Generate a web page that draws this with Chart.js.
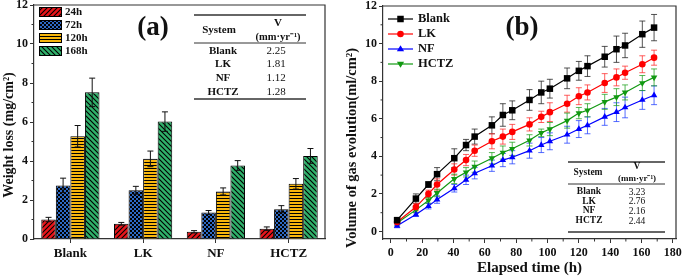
<!DOCTYPE html>
<html>
<head>
<meta charset="utf-8">
<script src="https://cdn.jsdelivr.net/npm/chart.js@4.4.0/dist/chart.umd.min.js"></script>
<style>
  html, body { margin: 0; padding: 0; background: #fff; }
  #wrap { position: relative; width: 685px; height: 277px; overflow: hidden; }
  canvas { position: absolute; top: 0; }
  #chartA { left: 0; }
  #chartB { left: 340px; }
</style>
</head>
<body>
<div id="wrap">
  <canvas id="chartA" width="340" height="277"></canvas>
  <canvas id="chartB" width="345" height="277"></canvas>
</div>
<script>
(function () {
  "use strict";

  // ---- (a) weight loss ----
  const systems   = ['Blank', 'LK', 'NF', 'HCTZ'];
  const periods   = ['24h', '72h', '120h', '168h'];
  const loss24    = [1.00, 0.78, 0.37, 0.53];
  const loss72    = [2.75, 2.50, 1.36, 1.53];
  const loss120   = [5.27, 4.11, 2.44, 2.83];
  const loss168   = [7.52, 6.02, 3.77, 4.26];
  const lossErr24  = [0.11, 0.07, 0.06, 0.09];
  const lossErr72  = [0.37, 0.20, 0.10, 0.18];
  const lossErr120 = [0.55, 0.40, 0.18, 0.27];
  const lossErr168 = [0.73, 0.50, 0.25, 0.38];
  const rateA     = ['2.25', '1.81', '1.12', '1.28'];

  // ---- (b) gas evolution ----
  const hours    = [4, 16, 24, 29.5, 40.5, 48, 53.5, 64.5, 71.5, 77.5, 88.5, 96, 101.5, 112.5, 120, 125.5, 136.5, 144, 149.5, 160.5, 168];
  const gasBlank = [0.60, 1.75, 2.50, 3.05, 3.90, 4.60, 5.05, 5.65, 6.20, 6.45, 7.00, 7.40, 7.60, 8.15, 8.55, 8.80, 9.30, 9.70, 9.90, 10.50, 10.85];
  const gasLK    = [0.50, 1.30, 2.00, 2.50, 3.30, 3.80, 4.30, 4.80, 5.05, 5.30, 5.70, 6.10, 6.35, 6.80, 7.20, 7.40, 7.90, 8.20, 8.45, 8.90, 9.25];
  const gasNF    = [0.30, 0.90, 1.35, 1.70, 2.30, 2.75, 3.10, 3.50, 3.80, 3.95, 4.30, 4.60, 4.80, 5.15, 5.45, 5.65, 6.10, 6.35, 6.60, 7.00, 7.25];
  const gasHCTZ  = [0.45, 1.15, 1.65, 2.05, 2.80, 3.15, 3.45, 3.90, 4.20, 4.40, 4.85, 5.25, 5.45, 5.90, 6.30, 6.45, 6.90, 7.15, 7.40, 7.90, 8.20];
  const errBlank = [0.15, 0.25, 0.15, 0.35, 0.50, 0.30, 0.40, 0.45, 0.60, 0.50, 0.55, 0.60, 0.50, 0.55, 0.50, 0.55, 0.55, 0.70, 0.65, 0.70, 0.70];
  const errLK    = [0.15, 0.20, 0.20, 0.30, 0.30, 0.30, 0.30, 0.40, 0.40, 0.40, 0.35, 0.30, 0.50, 0.45, 0.45, 0.40, 0.50, 0.45, 0.35, 0.45, 0.40];
  const errNF    = [0.10, 0.10, 0.15, 0.20, 0.20, 0.25, 0.30, 0.30, 0.35, 0.35, 0.40, 0.40, 0.45, 0.45, 0.45, 0.45, 0.45, 0.50, 0.55, 0.50, 0.50];
  const errHCTZ  = [0.15, 0.15, 0.15, 0.20, 0.25, 0.25, 0.30, 0.30, 0.35, 0.35, 0.30, 0.20, 0.35, 0.40, 0.30, 0.35, 0.40, 0.45, 0.40, 0.40, 0.45];
  const rateB    = ['3.23', '2.76', '2.16', '2.44'];

  const SERIF = '"Liberation Serif", "Times New Roman", serif';
  const AXIS  = '#333';

  Chart.defaults.font.family = SERIF;
  Chart.defaults.font.weight = 'bold';
  Chart.defaults.color = '#111';

  // hatched fills
  function hatch(ctx, bg, kind) {
    const s = kind === 'dots' ? 4 : (kind === 'h' ? 3 : 5);
    const c = document.createElement('canvas');
    c.width = s; c.height = s;
    const g = c.getContext('2d');
    g.fillStyle = bg; g.fillRect(0, 0, s, s);
    g.strokeStyle = '#000'; g.fillStyle = '#000'; g.lineWidth = 1.1;
    g.beginPath();
    if (kind === '/') {
      g.moveTo(0, s); g.lineTo(s, 0);
      g.moveTo(-1, 1); g.lineTo(1, -1);
      g.moveTo(s - 1, s + 1); g.lineTo(s + 1, s - 1);
      g.stroke();
    } else if (kind === '\\') {
      g.moveTo(0, 0); g.lineTo(s, s);
      g.moveTo(s - 1, -1); g.lineTo(s + 1, 1);
      g.moveTo(-1, s - 1); g.lineTo(1, s + 1);
      g.stroke();
    } else if (kind === 'h') {
      g.fillRect(0, 0, s, 1);
    } else {
      g.fillRect(0, 0, 2, 2); g.fillRect(2, 2, 2, 2);
    }
    return ctx.createPattern(c, 'repeat');
  }

  function text(ctx, s, x, y, size, bold, align) {
    ctx.font = (bold ? 'bold ' : '') + size + 'px ' + SERIF;
    ctx.textAlign = align || 'center';
    ctx.textBaseline = 'middle';
    ctx.fillText(s, x, y);
  }

  function vtext(ctx, s, x, y, size) {
    ctx.save();
    ctx.translate(x, y);
    ctx.rotate(-Math.PI / 2);
    text(ctx, s, 0, 0, size, true);
    ctx.restore();
  }

  function hline(ctx, x1, x2, y, w) {
    ctx.lineWidth = w;
    ctx.beginPath(); ctx.moveTo(x1, y); ctx.lineTo(x2, y); ctx.stroke();
  }

  function frame(chart) {
    const a = chart.chartArea, ctx = chart.ctx;
    ctx.strokeStyle = AXIS; ctx.lineWidth = 1.2;
    ctx.beginPath();
    ctx.moveTo(a.left, a.top); ctx.lineTo(a.right, a.top); ctx.lineTo(a.right, a.bottom);
    ctx.stroke();
  }

  function minorY(chart, vals) {
    const a = chart.chartArea, ctx = chart.ctx, y = chart.scales.y;
    ctx.strokeStyle = AXIS; ctx.lineWidth = 1;
    ctx.beginPath();
    vals.forEach(v => { const p = y.getPixelForValue(v); ctx.moveTo(a.left - 2.5, p); ctx.lineTo(a.left, p); });
    ctx.stroke();
  }

  function minorX(chart, vals) {
    const a = chart.chartArea, ctx = chart.ctx, x = chart.scales.x;
    ctx.strokeStyle = AXIS; ctx.lineWidth = 1;
    ctx.beginPath();
    vals.forEach(v => { const p = x.getPixelForValue(v); ctx.moveTo(p, a.bottom); ctx.lineTo(p, a.bottom + 2.5); });
    ctx.stroke();
  }

  function fixWidth(w) {
    return function (scale) { scale.width = w; scale.paddingTop = 0; scale.paddingBottom = 0; };
  }
  function fixHeight(h) {
    return function (scale) { scale.height = h; scale.paddingLeft = 0; scale.paddingRight = 0; };
  }

  // ------------------------------------------------------------------
  //  (a) bar chart
  // ------------------------------------------------------------------
  const canvasA = document.getElementById('chartA');
  const ctxA = canvasA.getContext('2d');
  const fillA = [
    hatch(ctxA, '#e8151b', '/'),
    hatch(ctxA, '#2d69c4', 'dots'),
    hatch(ctxA, '#f8b60c', 'h'),
    hatch(ctxA, '#2fb06a', '\\')
  ];
  const lossData = [loss24, loss72, loss120, loss168];
  const lossErrs = [lossErr24, lossErr72, lossErr120, lossErr168];

  const barErrors = {
    id: 'barErrors',
    afterDatasetsDraw(chart) {
      const ctx = chart.ctx, y = chart.scales.y;
      ctx.save();
      ctx.strokeStyle = '#111'; ctx.lineWidth = 1;
      chart.data.datasets.forEach((ds, i) => {
        chart.getDatasetMeta(i).data.forEach((bar, j) => {
          const t = y.getPixelForValue(ds.data[j] + ds.errors[j]);
          const b = y.getPixelForValue(ds.data[j] - ds.errors[j]);
          ctx.beginPath();
          ctx.moveTo(bar.x, t); ctx.lineTo(bar.x, b);
          ctx.moveTo(bar.x - 3, t); ctx.lineTo(bar.x + 3, t);
          ctx.moveTo(bar.x - 3, b); ctx.lineTo(bar.x + 3, b);
          ctx.stroke();
        });
      });
      ctx.restore();
    }
  };

  const decorA = {
    id: 'decorA',
    afterDraw(chart) {
      const ctx = chart.ctx;
      ctx.save();
      frame(chart);
      minorY(chart, [1, 3, 5, 7, 9, 11]);
      ctx.fillStyle = '#111';
      vtext(ctx, 'Weight loss (mg/cm\u00b2)', 9, 135, 14);
      text(ctx, '(a)', 153, 28, 27, true);

      // legend
      periods.forEach((p, i) => {
        const y = 7 + i * 13;
        ctx.fillStyle = fillA[i];
        ctx.fillRect(39, y, 23, 10);
        ctx.strokeStyle = '#000'; ctx.lineWidth = 1;
        ctx.strokeRect(39.5, y + 0.5, 22, 9);
        ctx.fillStyle = '#111';
        text(ctx, p, 65, y + 5.5, 11, true, 'left');
      });

      // rate table
      ctx.strokeStyle = '#333';
      hline(ctx, 194, 306, 15, 1.3);
      hline(ctx, 194, 306, 43, 1);
      hline(ctx, 194, 306, 99, 1.3);
      ctx.fillStyle = '#111';
      text(ctx, 'System', 219, 30, 11, true);
      text(ctx, 'V', 278, 23, 11, true);
      text(ctx, '(mm\u00b7yr\u207b\u00b9)', 278, 37, 10.5, true);
      systems.forEach((s, i) => {
        const y = [51, 64.5, 78, 92][i];
        text(ctx, s, 223, y, 11, true);
        text(ctx, rateA[i], 276, y, 11, false);
      });
      ctx.restore();
    }
  };

  new Chart(ctxA, {
    type: 'bar',
    data: {
      labels: systems,
      datasets: periods.map((p, i) => ({
        label: p,
        data: lossData[i],
        errors: lossErrs[i],
        backgroundColor: fillA[i],
        borderColor: '#000',
        borderWidth: 1,
        categoryPercentage: 0.8,
        barPercentage: 1.0
      }))
    },
    options: {
      responsive: false,
      animation: false,
      layout: { padding: { left: 0, right: 15, top: 5, bottom: 0 } },
      plugins: { legend: { display: false }, tooltip: { enabled: false } },
      scales: {
        x: {
          afterFit: fixHeight(38),
          grid: { display: true, offset: false, drawOnChartArea: false, drawTicks: true, tickLength: 4, color: AXIS },
          border: { color: AXIS, width: 1.2 },
          ticks: { padding: 3, font: { size: 13, weight: 'bold' }, color: '#111' }
        },
        y: {
          min: 0, max: 12,
          afterFit: fixWidth(34),
          grid: { display: true, drawOnChartArea: false, drawTicks: true, tickLength: 4, color: AXIS },
          border: { color: AXIS, width: 1.2 },
          ticks: { stepSize: 2, padding: 2, font: { size: 12, weight: 'bold' }, color: '#111' }
        }
      }
    },
    plugins: [barErrors, decorA]
  });

  // ------------------------------------------------------------------
  //  (b) line chart
  // ------------------------------------------------------------------
  const canvasB = document.getElementById('chartB');
  const ctxB = canvasB.getContext('2d');
  const seriesB = [
    { label: 'Blank', data: gasBlank, err: errBlank, color: '#000000', errColor: 'rgba(40,40,40,0.8)',  style: 'rect',     radius: 4.6, rot: 0 },
    { label: 'LK',    data: gasLK,    err: errLK,    color: '#ff0000', errColor: 'rgba(255,40,40,0.75)', style: 'circle',   radius: 3.3, rot: 0 },
    { label: 'NF',    data: gasNF,    err: errNF,    color: '#0000ff', errColor: 'rgba(30,60,255,0.75)', style: 'triangle', radius: 3.8, rot: 0 },
    { label: 'HCTZ',  data: gasHCTZ,  err: errHCTZ,  color: '#119911', errColor: 'rgba(30,160,30,0.75)', style: 'triangle', radius: 3.8, rot: 180 }
  ];

  const lineErrors = {
    id: 'lineErrors',
    beforeDatasetsDraw(chart) {
      const ctx = chart.ctx, x = chart.scales.x, y = chart.scales.y;
      ctx.save();
      ctx.lineWidth = 1;
      chart.data.datasets.forEach(ds => {
        ctx.strokeStyle = ds.errColor;
        ds.data.forEach((pt, j) => {
          const px = x.getPixelForValue(pt.x);
          const t = y.getPixelForValue(pt.y + ds.errors[j]);
          const b = y.getPixelForValue(pt.y - ds.errors[j]);
          ctx.beginPath();
          ctx.moveTo(px, t); ctx.lineTo(px, b);
          ctx.moveTo(px - 3, t); ctx.lineTo(px + 3, t);
          ctx.moveTo(px - 3, b); ctx.lineTo(px + 3, b);
          ctx.stroke();
        });
      });
      ctx.restore();
    }
  };

  function marker(ctx, style, rot, x, y, r) {
    ctx.beginPath();
    if (style === 'rect') {
      const s = r * Math.SQRT1_2;
      ctx.rect(x - s, y - s, 2 * s, 2 * s);
    } else if (style === 'circle') {
      ctx.arc(x, y, r, 0, Math.PI * 2);
    } else {
      const d = rot ? -1 : 1;
      ctx.moveTo(x, y - d * r);
      ctx.lineTo(x + r * 0.95, y + d * r * 0.6);
      ctx.lineTo(x - r * 0.95, y + d * r * 0.6);
      ctx.closePath();
    }
    ctx.fill();
  }

  const decorB = {
    id: 'decorB',
    afterDraw(chart) {
      const ctx = chart.ctx;
      ctx.save();
      frame(chart);
      minorY(chart, [1, 3, 5, 7, 9, 11]);
      minorX(chart, [10, 30, 50, 70, 90, 110, 130, 150, 170]);
      ctx.fillStyle = '#111';
      vtext(ctx, 'Volume of gas evolution(ml/cm\u00b2)', 12, 148, 14.5);
      text(ctx, '(b)', 182, 28, 27, true);

      // legend
      seriesB.forEach((s, i) => {
        const y = 19 + i * 15;
        ctx.strokeStyle = s.color; ctx.lineWidth = 1.2;
        ctx.beginPath(); ctx.moveTo(48, y); ctx.lineTo(73, y); ctx.stroke();
        ctx.fillStyle = s.color;
        marker(ctx, s.style, s.rot, 60.5, y, s.radius);
        ctx.fillStyle = '#111';
        text(ctx, s.label, 78, y, 12.5, true, 'left');
      });

      // rate table
      ctx.strokeStyle = '#333';
      hline(ctx, 228, 325, 162, 1.3);
      hline(ctx, 228, 325, 184, 1);
      hline(ctx, 228, 325, 232, 1.3);
      ctx.fillStyle = '#111';
      text(ctx, 'System', 248, 173, 9.5, true);
      text(ctx, 'V', 297, 167, 9.5, true);
      text(ctx, '(mm\u00b7yr\u207b\u00b9)', 297, 179, 9, true);
      systems.forEach((s, i) => {
        const y = [192, 201.5, 211, 221][i];
        text(ctx, s, 249, y, 9.5, true);
        text(ctx, rateB[i], 297, y, 9.5, false);
      });
      ctx.restore();
    }
  };

  new Chart(ctxB, {
    type: 'line',
    data: {
      datasets: seriesB.map(s => ({
        label: s.label,
        data: hours.map((h, j) => ({ x: h, y: s.data[j] })),
        errors: s.err,
        errColor: s.errColor,
        borderColor: s.color,
        backgroundColor: s.color,
        borderWidth: 1.2,
        pointStyle: s.style,
        pointRotation: s.rot,
        pointRadius: s.radius,
        pointBorderWidth: 0,
        tension: 0
      }))
    },
    options: {
      responsive: false,
      animation: false,
      layout: { padding: { left: 0, right: 9, top: 6, bottom: 0 } },
      plugins: { legend: { display: false }, tooltip: { enabled: false } },
      scales: {
        x: {
          type: 'linear',
          min: -5, max: 182,
          afterFit: fixHeight(38),
          title: { display: true, text: 'Elapsed time (h)', padding: { top: 0, bottom: 0 }, font: { size: 15, weight: 'bold' }, color: '#111' },
          grid: { display: true, drawOnChartArea: false, drawTicks: true, tickLength: 4, color: AXIS },
          border: { color: AXIS, width: 1.2 },
          ticks: { stepSize: 20, includeBounds: false, padding: 3, maxRotation: 0, autoSkip: false, font: { size: 12, weight: 'bold' }, color: '#111' }
        },
        y: {
          min: -0.4, max: 12,
          afterFit: fixWidth(43),
          grid: { display: true, drawOnChartArea: false, drawTicks: true, tickLength: 4, color: AXIS },
          border: { color: AXIS, width: 1.2 },
          ticks: { stepSize: 2, includeBounds: false, padding: 2, font: { size: 12, weight: 'bold' }, color: '#111' }
        }
      }
    },
    plugins: [lineErrors, decorB]
  });

})();
</script>
</body>
</html>
